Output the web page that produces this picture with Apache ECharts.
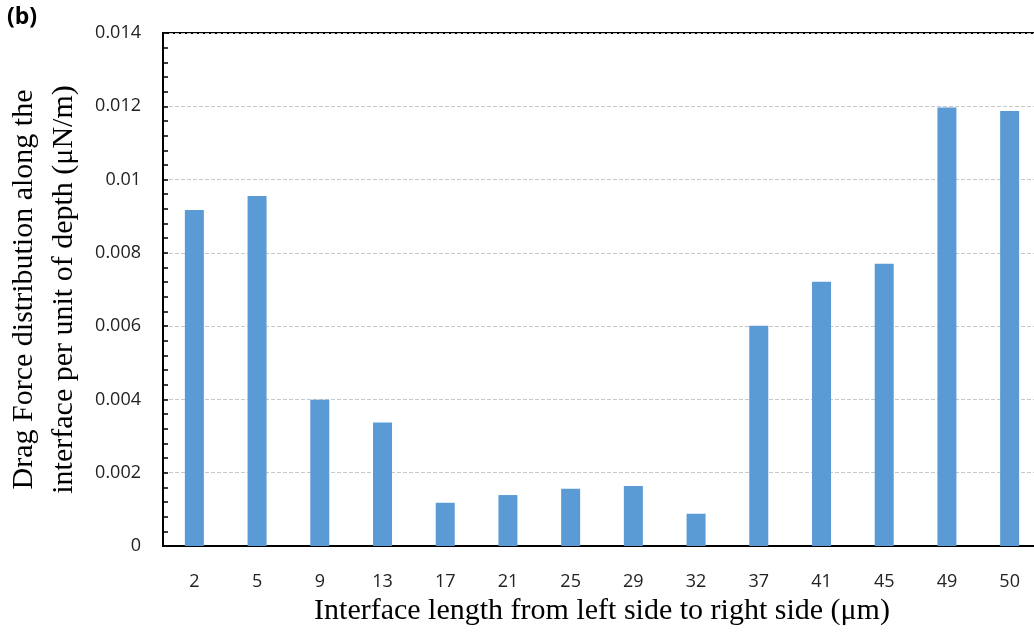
<!DOCTYPE html>
<html><head><meta charset="utf-8">
<script src="https://cdn.jsdelivr.net/npm/echarts@6/dist/echarts.min.js"></script>
<style>html,body{margin:0;padding:0;background:#fff}#c{width:1034px;height:633px}</style>
</head><body><div id="c"></div>
<script>
const categories = ['2','5','9','13','17','21','25','29','32','37','41','45','49','50'];
const dragForce = [0.00917,0.00955,0.00399,0.00337,0.00118,0.00139,0.00156,0.00164,0.00088,0.00601,0.00721,0.00770,0.01197,0.01187];
const yTicks = [0,0.002,0.004,0.006,0.008,0.01,0.012,0.014];

const chart = echarts.init(document.getElementById('c'));
chart.setOption({
  animation:false,
  graphic:[{type:'text',left:7,top:6,style:{text:'(b)',font:'bold 23px "Open Sans", sans-serif',fill:'#000'}}],
  grid:{left:163,top:33,width:878,bottom:87,containLabel:false,outerBoundsMode:'none',show:true,borderColor:'#000',borderWidth:2,backgroundColor:'transparent'},
  xAxis:{type:'category',data:categories,
    axisLine:{lineStyle:{color:'#000',width:2}},axisTick:{show:false},
    axisLabel:{color:'#222',fontSize:18,fontFamily:'"Open Sans", sans-serif',margin:27},
    name:'Interface length from left side to right side (\u03bcm)',nameLocation:'middle',nameGap:50,
    nameTextStyle:{fontFamily:'"Liberation Serif", serif',fontSize:30,color:'#000'}},
  yAxis:[{type:'value',min:0,max:0.014,interval:0.002,
    axisLine:{show:true,lineStyle:{color:'#000',width:2}},
    axisTick:{show:false},
    splitLine:{lineStyle:{color:'#c8c8c8',type:'dashed',width:1}},
    axisLabel:{color:'#222',fontSize:18,fontFamily:'"Open Sans", sans-serif',margin:22,
      formatter:v=>{const t=yTicks.find(x=>Math.abs(x-v)<1e-9);return t===undefined?'':String(+t.toFixed(3));}},
    name:'Drag Force distribution along the\ninterface per unit of depth (\u03bcN/m)',nameLocation:'middle',nameGap:74,
    nameTextStyle:{fontFamily:'"Liberation Serif", serif',fontSize:30,color:'#000',lineHeight:40}},
   {type:'value',min:0,max:0.014,interval:0.002,position:'right',offset:-878,
    axisLine:{show:false},axisLabel:{show:false},splitLine:{show:false},
    axisTick:{show:true,length:5,lineStyle:{color:'#000',width:1.5}},
    minorTick:{show:true,splitNumber:5,length:5,lineStyle:{color:'#000',width:1.5}}}],
  series:[{type:'bar',data:dragForce,barWidth:19,itemStyle:{color:'#5B9BD5'}}]
});
</script></body></html>
